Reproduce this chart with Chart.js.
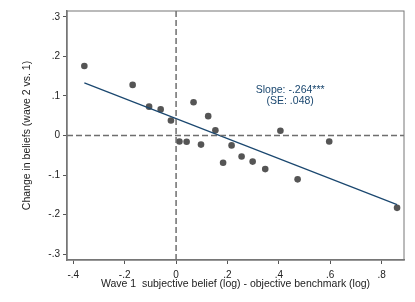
<!DOCTYPE html>
<html>
<head>
<meta charset="utf-8">
<script src="https://cdn.jsdelivr.net/npm/chart.js@4/dist/chart.umd.min.js"></script>
<style>
  html, body { margin: 0; padding: 0; background: #fff; }
  #wrap { width: 415px; height: 302px; }
</style>
</head>
<body>
<div id="wrap"><canvas id="chartBin"></canvas></div>
<script>
// binned scatter: wave 1 bias vs change in beliefs
const binX = [-0.357, -0.169, -0.105, -0.060, -0.020, 0.013, 0.041, 0.068, 0.097, 0.125,
              0.153, 0.183, 0.216, 0.255, 0.298, 0.347, 0.406, 0.473, 0.596, 0.860];
const binY = [0.176, 0.128, 0.073, 0.066, 0.038, -0.015, -0.016, 0.084, -0.023, 0.049,
              0.013, -0.069, -0.025, -0.053, -0.066, -0.085, 0.012, -0.111, -0.015, -0.183];

// fitted line endpoints
const fitX = [-0.357, 0.860];
const fitY = [0.133, -0.175];

const xTicks = [-0.4, -0.2, 0, 0.2, 0.4, 0.6, 0.8];
const yTicks = [-0.3, -0.2, -0.1, 0, 0.1, 0.2, 0.3];
const xRange = [-0.4245, 0.887];
const yRange = [-0.315, 0.315];

const noteLines = ['Slope: -.264***', '(SE: .048)'];
const notePos = { x: 0.444, y: [0.116, 0.086] };

const fmt = v => {
  if (Math.abs(v) < 1e-9) return '0';
  let s = (Math.round(v * 10) / 10).toString();
  return s.replace('0.', '.');
};

const framePlugin = {
  id: 'frame',
  afterDatasetsDraw(chart) {
    const { ctx, chartArea: a, scales } = chart;
    ctx.save();
    ctx.strokeStyle = '#777';
    ctx.lineWidth = 1;
    ctx.strokeRect(a.left, a.top, a.right - a.left, a.bottom - a.top);
    ctx.fillStyle = '#1a476f';
    ctx.font = '10.5px "Liberation Sans", Arial, sans-serif';
    ctx.textAlign = 'center';
    ctx.textBaseline = 'middle';
    noteLines.forEach((t, i) => {
      ctx.fillText(t, scales.x.getPixelForValue(notePos.x), scales.y.getPixelForValue(notePos.y[i]));
    });
    ctx.restore();
  }
};

const scatterPts = binX.map((x, i) => ({ x: x, y: binY[i] }));
const fitPts = fitX.map((x, i) => ({ x: x, y: fitY[i] }));

const config = {
  type: 'scatter',
  data: {
    datasets: [
      {
        type: 'line',
        data: [{ x: 0, y: yRange[0] }, { x: 0, y: yRange[1] }],
        borderColor: '#6e6e6e', borderWidth: 1.5, borderDash: [6, 3],
        pointRadius: 0, fill: false
      },
      {
        type: 'line',
        data: [{ x: xRange[0], y: 0 }, { x: xRange[1], y: 0 }],
        borderColor: '#6e6e6e', borderWidth: 1.5, borderDash: [6, 3],
        pointRadius: 0, fill: false
      },
      {
        type: 'line',
        data: fitPts,
        borderColor: '#1a476f', borderWidth: 1.2,
        pointRadius: 0, fill: false
      },
      {
        data: scatterPts,
        backgroundColor: '#555555', borderColor: '#555555',
        pointRadius: 3.3, borderWidth: 0
      }
    ]
  },
  options: {
    responsive: true,
    maintainAspectRatio: false,
    animation: false,
    layout: { padding: { left: 19, right: 11, top: 11, bottom: 12 } },
    plugins: { legend: { display: false }, tooltip: { enabled: false } },
    scales: {
      x: {
        type: 'linear', min: xRange[0], max: xRange[1],
        afterBuildTicks: s => { s.ticks = xTicks.map(v => ({ value: v })); },
        afterFit: s => { s.height = 30; },
        ticks: { callback: fmt, color: '#222', padding: 5, maxRotation: 0,
                 font: { size: 10, family: '"Liberation Sans", Arial, sans-serif' } },
        grid: { drawOnChartArea: false, drawTicks: true, tickLength: 4, color: '#555' },
        border: { color: '#777', width: 1.5 },
        title: { display: true, text: 'Wave 1  subjective belief (log) - objective benchmark (log)',
                 color: '#222', padding: { top: 0, bottom: 0 },
                 font: { size: 10.5, family: '"Liberation Sans", Arial, sans-serif' } }
      },
      y: {
        type: 'linear', min: yRange[0], max: yRange[1],
        afterBuildTicks: s => { s.ticks = yTicks.map(v => ({ value: v })); },
        afterFit: s => { s.width = 48; },
        ticks: { callback: fmt, color: '#222', padding: 3,
                 font: { size: 10, family: '"Liberation Sans", Arial, sans-serif' } },
        grid: { drawOnChartArea: false, drawTicks: true, tickLength: 4, color: '#555' },
        border: { color: '#777', width: 1.5 },
        title: { display: true, text: 'Change in beliefs (wave 2 vs. 1)',
                 color: '#222', padding: { top: 2, bottom: 0 },
                 font: { size: 10.5, family: '"Liberation Sans", Arial, sans-serif' } }
      }
    }
  },
  plugins: [framePlugin]
};

new Chart(document.getElementById('chartBin'), config);
</script>
</body>
</html>
